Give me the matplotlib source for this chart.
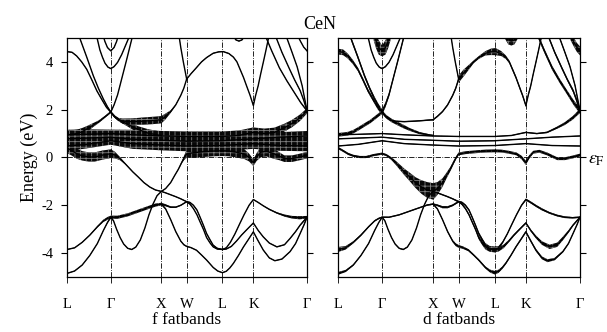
import numpy as np
import matplotlib
matplotlib.use('Agg')
import matplotlib.pyplot as plt
import matplotlib.transforms as mtransforms

plt.rcParams['font.family'] = ['Liberation Serif', 'DejaVu Serif']
plt.rcParams['mathtext.fontset'] = 'stix'
plt.rcParams['axes.unicode_minus'] = False
plt.rcParams['hatch.linewidth'] = 0.6

# high symmetry points along L-G-X-W-L-K-G
kpts = [0.0, 0.866, 1.866, 2.366, 3.073, 3.685, 4.746]
klabels = ['L', 'Γ', 'X', 'W', 'L', 'K', 'Γ']

# each band: (k, E [eV], f weight width, d weight width)
vb1 = [(0.00, -4.85, .03, .08), (0.15, -4.75, .03, .06), (0.30, -4.50, .03, .04), (0.45, -4.10, .03, .03),
       (0.60, -3.60, .03, .03), (0.72, -3.05, .04, .03), (0.80, -2.72, .06, .03), (0.866, -2.50, .08, .03),
       (0.92, -2.65, .04, .03), (0.98, -3.00, .03, .03), (1.05, -3.35, .03, .03), (1.12, -3.62, .03, .03),
       (1.20, -3.80, .03, .03), (1.28, -3.85, .03, .03), (1.36, -3.75, .03, .03), (1.45, -3.45, .03, .03),
       (1.54, -2.95, .03, .03), (1.62, -2.40, .03, .03), (1.70, -1.95, .03, .03), (1.78, -1.60, .03, .03),
       (1.866, -1.42, .03, .03), (1.95, -1.48, .03, .03), (2.05, -1.56, .03, .03), (2.15, -1.64, .03, .03),
       (2.25, -1.73, .03, .03), (2.366, -1.85, .04, .05), (2.43, -1.88, .04, .05), (2.50, -2.00, .04, .05),
       (2.57, -2.20, .04, .05), (2.63, -2.49, .04, .06), (2.70, -2.85, .04, .06), (2.76, -3.18, .04, .08),
       (2.83, -3.45, .04, .10), (2.89, -3.67, .04, .12), (2.97, -3.80, .04, .14), (3.073, -3.85, .04, .15),
       (3.15, -3.78, .03, .10), (3.23, -3.55, .03, .06), (3.32, -3.20, .03, .04), (3.42, -2.75, .03, .04),
       (3.50, -2.40, .03, .04), (3.60, -2.00, .03, .05), (3.685, -1.76, .03, .06), (3.78, -1.88, .03, .06),
       (3.88, -2.02, .03, .06), (4.00, -2.17, .04, .06), (4.15, -2.32, .05, .05), (4.30, -2.43, .08, .05),
       (4.45, -2.50, .10, .05), (4.60, -2.52, .12, .04), (4.746, -2.50, .10, .04)]

vb2 = [(0.00, -3.85, .03, .14), (0.15, -3.78, .03, .10), (0.30, -3.55, .03, .06), (0.45, -3.25, .04, .05),
       (0.60, -2.90, .06, .04), (0.72, -2.65, .09, .04), (0.80, -2.55, .11, .04), (0.866, -2.50, .12, .04),
       (1.00, -2.50, .12, .03), (1.20, -2.40, .12, .03), (1.40, -2.25, .12, .03), (1.60, -2.10, .12, .03),
       (1.75, -1.99, .12, .04), (1.866, -1.95, .10, .04), (1.95, -2.00, .08, .05), (2.05, -2.08, .06, .06),
       (2.15, -2.08, .05, .06), (2.25, -2.00, .04, .05), (2.366, -1.85, .04, .05), (2.43, -1.95, .03, .05),
       (2.50, -2.14, .03, .05), (2.57, -2.40, .03, .06), (2.63, -2.69, .03, .06), (2.70, -3.02, .03, .08),
       (2.76, -3.35, .03, .10), (2.83, -3.58, .03, .12), (2.89, -3.74, .03, .14), (2.97, -3.83, .03, .15),
       (3.073, -3.85, .03, .16), (3.15, -3.83, .03, .14), (3.25, -3.72, .03, .10), (3.35, -3.50, .03, .07),
       (3.45, -3.25, .03, .06), (3.55, -3.03, .03, .05), (3.685, -2.74, .03, .05), (3.78, -3.05, .03, .06),
       (3.88, -3.32, .03, .08), (4.00, -3.58, .03, .10), (4.15, -3.74, .03, .12), (4.30, -3.65, .03, .12),
       (4.41, -3.39, .03, .10), (4.52, -3.10, .04, .07), (4.61, -2.83, .05, .05), (4.746, -2.50, .08, .04)]

vb3 = [(1.866, -1.95, .08, .04), (1.95, -2.15, .05, .04), (2.05, -2.60, .04, .04), (2.15, -3.10, .04, .05),
       (2.25, -3.50, .04, .06), (2.31, -3.65, .04, .08), (2.366, -3.72, .04, .08), (2.45, -3.77, .03, .07),
       (2.56, -3.88, .03, .06), (2.66, -4.08, .03, .05), (2.76, -4.29, .03, .05), (2.89, -4.60, .03, .06),
       (2.98, -4.75, .03, .08), (3.073, -4.82, .03, .10), (3.15, -4.76, .03, .09), (3.22, -4.62, .03, .07),
       (3.29, -4.43, .03, .06), (3.39, -4.10, .03, .05), (3.49, -3.74, .03, .05), (3.59, -3.42, .03, .05),
       (3.685, -3.11, .03, .06), (3.77, -3.45, .03, .06), (3.88, -3.87, .03, .07), (4.00, -4.20, .03, .08),
       (4.11, -4.32, .03, .08), (4.25, -4.25, .03, .07), (4.41, -3.94, .03, .05), (4.52, -3.60, .03, .04),
       (4.61, -3.18, .04, .04), (4.69, -2.80, .06, .04), (4.746, -2.50, .08, .04)]

cb1 = [(0.00, 0.40, .38, .06), (0.10, 0.28, .38, .06), (0.20, 0.15, .38, .06), (0.30, 0.07, .36, .06),
       (0.43, 0.02, .35, .06), (0.55, 0.02, .35, .06), (0.70, 0.10, .35, .06), (0.866, 0.16, .33, .06),
       (0.95, 0.10, .25, .06), (1.05, -0.05, .12, .08), (1.15, -0.26, .05, .12), (1.30, -0.60, .03, .18),
       (1.41, -0.82, .03, .24), (1.52, -1.05, .03, .30), (1.64, -1.24, .03, .38), (1.75, -1.36, .03, .44),
       (1.866, -1.42, .03, .46), (1.95, -1.30, .03, .36), (2.05, -1.05, .03, .24), (2.13, -0.75, .03, .16),
       (2.20, -0.50, .04, .12), (2.27, -0.20, .08, .10), (2.32, 0.00, .18, .08), (2.366, 0.15, .30, .08),
       (2.50, 0.20, .40, .08), (2.70, 0.24, .40, .08), (2.90, 0.27, .40, .08), (3.073, 0.28, .40, .08),
       (3.20, 0.27, .40, .08), (3.35, 0.22, .40, .08), (3.50, 0.15, .38, .08), (3.60, 0.00, .30, .10),
       (3.685, -0.22, .25, .12), (3.75, 0.02, .30, .10), (3.83, 0.22, .38, .08), (3.95, 0.26, .40, .08),
       (4.10, 0.15, .38, .08), (4.20, 0.05, .30, .08), (4.30, -0.05, .25, .08), (4.45, -0.05, .25, .08),
       (4.60, 0.02, .25, .08), (4.746, 0.10, .25, .08)]

# flat 4f bands
f1 = [(0.00, 0.95, .38, .02), (0.40, 0.97, .38, .02), (0.866, 1.00, .30, .02), (1.30, 0.95, .38, .02),
      (1.866, 0.90, .38, .02), (2.366, 0.88, .38, .02), (3.073, 0.88, .38, .02), (3.40, 0.92, .38, .02),
      (3.685, 1.05, .38, .03), (3.90, 1.00, .38, .03), (4.10, 1.05, .36, .04), (4.30, 1.25, .30, .06),
      (4.45, 1.42, .28, .08), (4.60, 1.65, .25, .10), (4.746, 1.95, .20, .12)]
f2 = [(0.00, 0.78, .38, .02), (0.866, 0.85, .38, .02), (1.30, 0.76, .38, .02), (1.866, 0.72, .38, .02),
      (2.366, 0.68, .38, .02), (3.073, 0.70, .38, .02), (3.685, 0.78, .38, .02), (4.20, 0.85, .38, .02),
      (4.746, 0.90, .38, .02)]
f3 = [(0.00, 0.48, .40, .02), (0.40, 0.55, .30, .02), (0.866, 0.70, .30, .02), (1.30, 0.58, .40, .02),
      (1.866, 0.52, .40, .02), (2.366, 0.48, .40, .02), (3.073, 0.50, .40, .02), (3.685, 0.58, .40, .02),
      (4.20, 0.50, .40, .02), (4.746, 0.48, .40, .02)]

# 5d conduction bands
cb_lg_down = [(0.00, 0.95, .30, .10), (0.10, 0.97, .30, .10), (0.20, 1.00, .30, .10), (0.30, 1.08, .28, .10),
              (0.40, 1.20, .22, .10), (0.52, 1.36, .15, .10), (0.63, 1.50, .10, .10), (0.75, 1.70, .08, .10),
              (0.866, 1.90, .08, .10)]
cb_gx_down = [(0.866, 1.90, .08, .10), (0.95, 1.70, .10, .10), (1.05, 1.55, .12, .10), (1.15, 1.44, .15, .10),
              (1.28, 1.30, .20, .10), (1.41, 1.17, .25, .08), (1.60, 1.02, .30, .06), (1.80, 0.94, .30, .04),
              (1.866, 0.92, .30, .04)]
cb_gx_flat = [(0.866, 1.90, .05, .03), (0.93, 1.72, .06, .03), (1.00, 1.60, .10, .03), (1.10, 1.52, .20, .03),
              (1.30, 1.50, .25, .03), (1.50, 1.52, .28, .03), (1.70, 1.55, .28, .03), (1.866, 1.58, .28, .04)]
cb_xw_up = [(1.866, 1.58, .28, .04), (1.95, 1.72, .22, .04), (2.05, 1.92, .10, .04), (2.15, 2.20, .04, .05),
            (2.25, 2.60, .03, .06), (2.31, 2.90, .03, .08), (2.366, 3.28, .03, .10)]
cb_xw_top = [(2.20, 5.30, .03, .05), (2.25, 4.60, .03, .05), (2.30, 4.00, .03, .05), (2.366, 3.28, .03, .08)]
cb_wlk = [(2.366, 3.28, .03, .20), (2.45, 3.50, .03, .20), (2.56, 3.76, .03, .14), (2.66, 4.00, .03, .08),
          (2.76, 4.18, .03, .08), (2.89, 4.36, .03, .12), (3.00, 4.42, .03, .18), (3.09, 4.43, .03, .20),
          (3.20, 4.35, .03, .14), (3.29, 4.20, .03, .10), (3.36, 4.00, .03, .08), (3.42, 3.70, .03, .08),
          (3.49, 3.35, .03, .08), (3.55, 3.00, .03, .08), (3.62, 2.60, .03, .08), (3.685, 2.17, .03, .08),
          (3.73, 2.60, .03, .08), (3.78, 3.00, .03, .08), (3.83, 3.50, .03, .08), (3.88, 3.97, .03, .08),
          (3.93, 4.45, .03, .08), (3.98, 4.95, .03, .08), (4.00, 5.20, .03, .08)]
cb_lg_top = [(0.00, 4.43, .03, .16), (0.10, 4.40, .03, .16), (0.19, 4.25, .03, .14), (0.29, 4.00, .03, .12),
             (0.39, 3.69, .03, .10), (0.49, 3.25, .03, .10), (0.59, 2.79, .03, .10), (0.69, 2.42, .03, .10),
             (0.78, 2.10, .04, .12), (0.866, 1.90, .06, .16)]
cb_lg_steep = [(0.20, 5.40, .03, .10), (0.26, 4.95, .03, .10), (0.39, 4.20, .03, .10), (0.52, 3.42, .03, .10),
               (0.62, 2.90, .03, .10), (0.72, 2.44, .03, .12), (0.80, 2.12, .04, .14), (0.866, 1.90, .06, .16)]
cb_gx_steep = [(0.866, 1.90, .06, .16), (0.93, 2.20, .04, .14), (1.00, 2.62, .03, .12), (1.08, 3.28, .03, .10),
               (1.18, 4.10, .03, .10), (1.28, 4.95, .03, .10), (1.32, 5.30, .03, .10)]
cb_g_par = [(0.55, 5.30, .03, .03), (0.60, 4.95, .03, .03), (0.65, 4.50, .03, .03), (0.70, 4.20, .03, .03),
            (0.75, 3.95, .03, .03), (0.81, 3.78, .03, .03), (0.866, 3.72, .03, .03), (0.93, 3.80, .03, .03),
            (1.00, 3.98, .03, .03), (1.08, 4.30, .03, .03), (1.15, 4.65, .03, .03), (1.22, 5.00, .03, .03),
            (1.27, 5.30, .03, .03)]
cb_g_inner = [(0.70, 5.20, .03, .40), (0.75, 4.85, .03, .40), (0.80, 4.60, .03, .40), (0.866, 4.46, .03, .30),
              (0.93, 4.60, .03, .40), (0.98, 4.85, .03, .40), (1.03, 5.20, .03, .40)]
cb_kg1 = [(3.92, 5.10, .03, .12), (4.05, 4.45, .03, .12), (4.20, 3.75, .03, .12), (4.35, 3.20, .03, .12),
          (4.50, 2.70, .03, .12), (4.62, 2.30, .04, .14), (4.746, 1.95, .06, .16)]
cb_kg2 = [(4.12, 5.10, .03, .08), (4.25, 4.40, .03, .08), (4.40, 3.70, .03, .08), (4.50, 3.25, .03, .08),
          (4.61, 2.80, .03, .10), (4.68, 2.40, .04, .12), (4.746, 1.95, .06, .14)]
cb_kg3 = [(4.33, 5.10, .03, .06), (4.45, 4.40, .03, .06), (4.55, 3.80, .03, .06), (4.65, 3.00, .03, .08),
          (4.746, 1.95, .06, .10)]
cb_g2_arm = [(4.56, 5.10, .03, .25), (4.62, 4.85, .03, .25), (4.68, 4.62, .03, .25), (4.746, 4.46, .03, .25)]
cb_lk_top = [(3.28, 5.10, .03, .20), (3.34, 4.92, .03, .25), (3.40, 4.87, .03, .25), (3.46, 4.92, .03, .25),
             (3.52, 5.10, .03, .20)]

bands = [vb1, vb2, vb3, cb1, f1, f2, f3, cb_lg_down, cb_gx_down, cb_gx_flat, cb_xw_up, cb_xw_top,
         cb_wlk, cb_lg_top, cb_lg_steep, cb_gx_steep, cb_g_par, cb_g_inner, cb_kg1, cb_kg2, cb_kg3,
         cb_g2_arm, cb_lk_top]


def draw_panel(ax, col, xlabel, wscale):
    for b in bands:
        a = np.array(b)
        k, e, w = a[:, 0], a[:, 1], a[:, col] * wscale
        ax.fill_between(k, e - w / 2, e + w / 2, facecolor='0.03', edgecolor='0.5',
                        hatch='+++', linewidth=0, zorder=2)
        ax.plot(k, e, color='k', lw=1.0, zorder=3)
    for kk in kpts[1:-1]:
        ax.axvline(kk, color='k', ls='-.', lw=0.6, zorder=1)
    ax.axhline(0, color='k', ls='-.', lw=0.6, zorder=1)
    ax.set_xlim(kpts[0], kpts[-1])
    ax.set_ylim(-5, 5)
    ax.set_xticks(kpts)
    ax.set_xticklabels(klabels)
    ax.set_yticks([-4, -2, 0, 2, 4])
    ax.tick_params(axis='y', direction='out', left=True, right=True, length=4, width=0.8,
                   labelsize=10.5, pad=6)
    ax.tick_params(axis='x', direction='out', length=4, width=0.6, labelsize=10.5, pad=11)
    ax.set_xlabel(xlabel, fontsize=12.5, labelpad=1)
    for s in ax.spines.values():
        s.set_linewidth(0.9)


fig = plt.figure(figsize=(6.07, 3.32), dpi=100)
ax1 = fig.add_axes([0.1104, 0.1657, 0.3954, 0.7199])
ax2 = fig.add_axes([0.5568, 0.1657, 0.3987, 0.7199])

draw_panel(ax1, 2, 'f fatbands', 1.1)
draw_panel(ax2, 3, 'd fatbands', 1.5)
ax1.set_ylabel('Energy (eV)', fontsize=13, labelpad=2)
ax2.set_yticklabels([])

fig.text(0.526, 0.925, 'CeN', fontsize=13, ha='center', va='center')
trans = mtransforms.blended_transform_factory(ax2.transAxes, ax2.transData)
ax2.text(1.035, -0.1, r'$\varepsilon_{\rm F}$', transform=trans, fontsize=13,
         ha='left', va='center')

fig.savefig('out.png', dpi=100)
